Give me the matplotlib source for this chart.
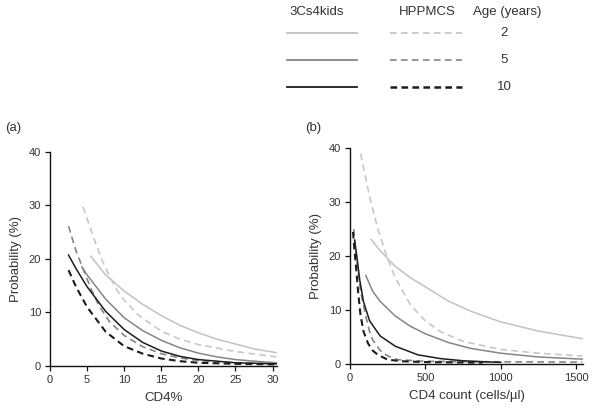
import matplotlib
matplotlib.use("Agg")
import matplotlib.pyplot as plt
from matplotlib.lines import Line2D

plt.rcParams['font.family'] = ['Liberation Sans', 'DejaVu Sans']
plt.rcParams['lines.scale_dashes'] = False

ages = ["2", "5", "10"]
series_names = ["3Cs4kids", "HPPMCS"]

# Panel (a): CD4%
a_light_solid_x = [5.5, 7.5, 10, 12.5, 15, 17.5, 20, 22.5, 25, 27.5, 30.5]
a_light_solid_y = [20.5, 17.0, 14.0, 11.5, 9.4, 7.6, 6.2, 5.0, 4.1, 3.2, 2.5]
a_light_dash_x = [4.45, 5, 6, 7, 8, 9, 10, 12, 15, 17.5, 20, 25, 30.5]
a_light_dash_y = [29.7, 27.5, 23.5, 19.8, 16.8, 14.2, 12.3, 9.4, 6.5, 5.0, 4.0, 2.7, 1.7]
a_med_solid_x = [4.3, 5, 7.5, 10, 12.5, 15, 17.5, 20, 22.5, 25, 27.5, 30.5]
a_med_solid_y = [18.5, 17.0, 12.5, 9.0, 6.6, 4.8, 3.4, 2.4, 1.7, 1.2, 0.9, 0.6]
a_med_dash_x = [2.5, 3.5, 4.5, 5.5, 6.5, 8, 10, 12.5, 15, 17.5, 20, 25, 30.5]
a_med_dash_y = [26.1, 21.5, 18.0, 14.5, 11.5, 8.3, 5.7, 3.6, 2.3, 1.5, 1.0, 0.6, 0.4]
a_dark_solid_x = [2.5, 3.5, 5, 7.5, 10, 12.5, 15, 17.5, 20, 25, 30.5]
a_dark_solid_y = [20.7, 18.2, 14.8, 10.2, 6.8, 4.4, 2.8, 1.8, 1.2, 0.6, 0.4]
a_dark_dash_x = [2.5, 3.5, 5, 7.5, 10, 12.5, 15, 17.5, 20, 25, 30.5]
a_dark_dash_y = [17.9, 14.8, 11.0, 6.4, 3.7, 2.3, 1.4, 0.9, 0.6, 0.4, 0.3]

# Panel (b): CD4 count
b_light_solid_x = [140, 200, 300, 400, 500, 650, 800, 1000, 1250, 1540]
b_light_solid_y = [23.1, 21.0, 18.1, 16.0, 14.3, 11.7, 9.8, 7.8, 6.1, 4.7]
b_light_dash_x = [70, 100, 130, 185, 250, 300, 400, 500, 600, 750, 1000, 1250, 1540]
b_light_dash_y = [39.0, 35.0, 31.0, 25.0, 19.5, 16.0, 11.0, 8.0, 6.0, 4.2, 2.7, 2.0, 1.5]
b_med_solid_x = [105, 150, 200, 300, 400, 500, 650, 800, 1000, 1250, 1540]
b_med_solid_y = [16.4, 13.5, 11.6, 8.9, 7.0, 5.6, 4.0, 2.9, 2.0, 1.3, 0.9]
b_med_dash_x = [25, 35, 50, 70, 100, 130, 150, 200, 250, 315, 500, 1000, 1540]
b_med_dash_y = [25.0, 22.0, 18.0, 13.5, 9.4, 6.0, 4.5, 2.5, 1.5, 0.8, 0.5, 0.4, 0.35]
b_dark_solid_x = [30, 45, 65, 90, 130, 200, 300, 450, 600, 750, 900, 1000]
b_dark_solid_y = [23.0, 20.0, 15.5, 11.5, 8.0, 5.2, 3.3, 1.7, 1.0, 0.6, 0.4, 0.3]
b_dark_dash_x = [20, 30, 40, 55, 70, 90, 120, 150, 185, 250, 350, 500, 880]
b_dark_dash_y = [24.5, 21.0, 18.0, 13.0, 9.0, 6.0, 3.8, 2.5, 1.7, 0.8, 0.5, 0.35, 0.25]

a_xticks = [0, 5, 10, 15, 20, 25, 30]
b_xticks = [0, 500, 1000, 1500]
yticks = [0, 10, 20, 30, 40]

LIGHT = "#c2c2c2"
LIGHT_D = "#c8c8c8"
MED = "#858585"
DARK = "#1c1c1c"
DASH = (4.8, 3.1)
TXT = "#333333"

fig = plt.figure(figsize=(6.04, 4.15), dpi=100)
W, H = 604, 415

def ax_rect(x0, x1, ytop, ybot):
    return [x0 / W, 1 - ybot / H, (x1 - x0) / W, (ybot - ytop) / H]

ax_a = fig.add_axes(ax_rect(50, 277, 151.7, 366))
ax_b = fig.add_axes(ax_rect(350, 583, 148.3, 364))

def style(ax, xlim, xticks, xlabel):
    ax.set_xlim(*xlim)
    ax.set_ylim(0, 40)
    ax.set_xticks(xticks)
    ax.set_yticks(yticks)
    for s in ["top", "right"]:
        ax.spines[s].set_visible(False)
    for s in ["left", "bottom"]:
        ax.spines[s].set_linewidth(1.0)
        ax.spines[s].set_color("#111111")
    ax.tick_params(direction="out", length=3.5, width=0.9, labelsize=8,
                   labelcolor=TXT, color="#111111", pad=3)
    ax.set_xlabel(xlabel, fontsize=9.5, color=TXT, labelpad=5)
    ax.set_ylabel("Probability (%)", fontsize=9.5, color=TXT, labelpad=5)

def draw(ax, data):
    for (x, y, c, dashed, lw) in data:
        if dashed:
            ax.plot(x, y, color=c, lw=lw, dashes=DASH, solid_capstyle="butt")
        else:
            ax.plot(x, y, color=c, lw=lw)

draw(ax_a, [
    (a_light_solid_x, a_light_solid_y, LIGHT, False, 1.1),
    (a_light_dash_x, a_light_dash_y, LIGHT_D, True, 1.2),
    (a_med_solid_x, a_med_solid_y, MED, False, 1.1),
    (a_med_dash_x, a_med_dash_y, MED, True, 1.2),
    (a_dark_solid_x, a_dark_solid_y, DARK, False, 1.1),
    (a_dark_dash_x, a_dark_dash_y, DARK, True, 1.5),
])
draw(ax_b, [
    (b_light_solid_x, b_light_solid_y, LIGHT, False, 1.1),
    (b_light_dash_x, b_light_dash_y, LIGHT_D, True, 1.2),
    (b_med_solid_x, b_med_solid_y, MED, False, 1.1),
    (b_med_dash_x, b_med_dash_y, MED, True, 1.2),
    (b_dark_solid_x, b_dark_solid_y, DARK, False, 1.1),
    (b_dark_dash_x, b_dark_dash_y, DARK, True, 1.5),
])

style(ax_a, (0, 30.6), a_xticks, "CD4%")
style(ax_b, (0, 1545), b_xticks, "CD4 count (cells/\u00b5l)")

fig.text(5 / W, 1 - 128 / H, "(a)", fontsize=9.5, color=TXT, va="center", ha="left")
fig.text(305 / W, 1 - 128 / H, "(b)", fontsize=9.5, color=TXT, va="center", ha="left")

# Custom legend block
hdr_y = 1 - 12 / H
fig.text(317 / W, hdr_y, series_names[0], fontsize=9.5, color=TXT, ha="center", va="center")
fig.text(427 / W, hdr_y, series_names[1], fontsize=9.5, color=TXT, ha="center", va="center")
fig.text(507 / W, hdr_y, "Age (years)", fontsize=9.5, color=TXT, ha="center", va="center")
rows = [33, 60, 87]
cols = [LIGHT, MED, DARK]
dlw = [1.2, 1.2, 1.8]
for r, c, lab, lw in zip(rows, cols, ages, dlw):
    yy = 1 - r / H
    fig.add_artist(Line2D([287 / W, 357 / W], [yy, yy], color=c, lw=1.3,
                          transform=fig.transFigure))
    fig.add_artist(Line2D([390 / W, 462 / W], [yy, yy], color=c, lw=lw, dashes=DASH,
                          transform=fig.transFigure))
    fig.text(504 / W, yy, lab, fontsize=9.5, color=TXT, ha="center", va="center")

fig.savefig("out.png", dpi=100)
